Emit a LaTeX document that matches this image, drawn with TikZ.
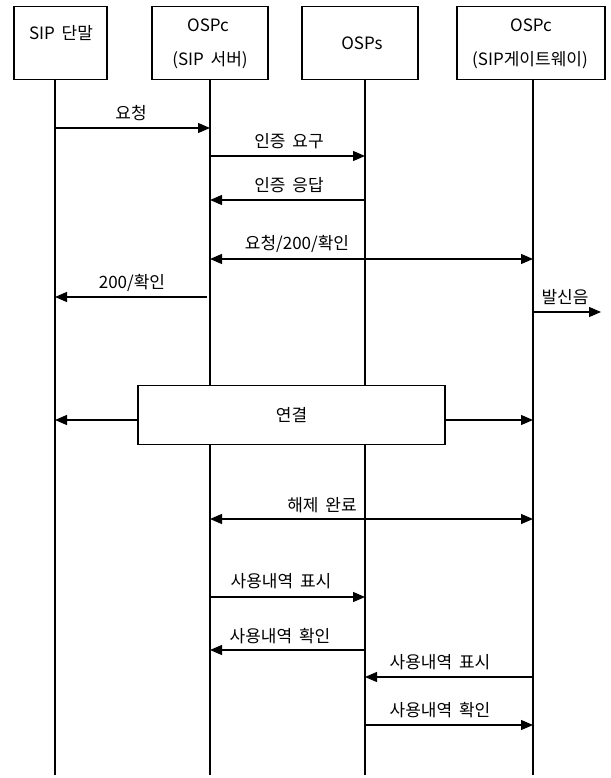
\documentclass[tikz,border=0pt]{standalone}
\usepackage{fontspec}
\setmainfont{Noto Sans CJK KR}
\usetikzlibrary{arrows.meta}
\begin{document}
\begin{tikzpicture}[x=1pt,y=-1pt,
  line width=1.2pt,
  font=\fontsize{17}{20}\selectfont,
  actor/.style={draw,fill=white,minimum height=73pt,inner sep=0pt},
  life/.style={line width=1.2pt},
  msg/.style={-{Triangle[length=12pt,width=10pt]}},
  dmsg/.style={{Triangle[length=12pt,width=10pt]}-{Triangle[length=12pt,width=10pt]}},
  lbl/.style={inner sep=1pt}]
\useasboundingbox (0,0) rectangle (610,778);
% actor boxes
\node[actor,minimum width=93pt] (A) at (60.5,43) {};
\node[actor,minimum width=116pt] (B) at (210,43) {};
\node[actor,minimum width=116pt] (C) at (360,43) {};
\node[actor,minimum width=148pt] (D) at (531,43) {};
\node (At) at (61,33) {SIP\hspace{0.4em}단말};
\node (Bt1) at (208,25) {OSPc};
\node (Bt2) at (210,60) {(SIP\hspace{0.4em}서버)};
\node (Ct) at (362,43) {OSPs};
\node (Dt1) at (531,25) {OSPc};
\node (Dt2) at (530,60) {(SIP게이트웨이)};
% lifeline ends
\coordinate (Ae) at (55,775);
\coordinate (Be) at (210,775);
\coordinate (Ce) at (365,775);
\coordinate (De) at (533,775);
\coordinate (As) at (55,80);
\coordinate (Bs) at (210,80);
\coordinate (Cs) at (365,80);
\coordinate (Ds) at (533,80);
\draw[life] (As) -- (Ae);
\draw[life] (Bs) -- (Be);
\draw[life] (Cs) -- (Ce);
\draw[life] (Ds) -- (De);
% messages
\coordinate (m1a) at (55,128); \coordinate (m1b) at (210,128);
\draw[msg] (m1a) -- (m1b);
\node[lbl] (l1) at (131,113) {요청};
\coordinate (m2a) at (210,156); \coordinate (m2b) at (365,156);
\draw[msg] (m2a) -- (m2b);
\node[lbl] (l2) at (289,141) {인증\hspace{0.4em}요구};
\coordinate (m3a) at (365,200); \coordinate (m3b) at (210,200);
\draw[msg] (m3a) -- (m3b);
\node[lbl] (l3) at (289,185) {인증\hspace{0.4em}응답};
\coordinate (m4a) at (210,259); \coordinate (m4b) at (533,259);
\draw[dmsg] (m4a) -- (m4b);
\node[lbl] (l4) at (297,244) {요청/200/확인};
\coordinate (m5a) at (207,297); \coordinate (m5b) at (55,297);
\draw[msg] (m5a) -- (m5b);
\node[lbl] (l5) at (132,283) {200/확인};
\coordinate (m6a) at (533,312); \coordinate (m6b) at (601,312);
\draw[msg] (m6a) -- (m6b);
\node[lbl] (l6) at (565,297) {발신음};
% connection box
\node[draw,fill=white,minimum width=307pt,minimum height=59pt,inner sep=0pt] (K) at (291.5,415) {연결};
\coordinate (kA) at (55,420); \coordinate (kD) at (533,420);
\draw[msg] (K.west |- kA) -- (kA);
\draw[msg] (K.east |- kD) -- (kD);
% release
\coordinate (m7a) at (210,519); \coordinate (m7b) at (533,519);
\draw[dmsg] (m7a) -- (m7b);
\node[lbl] (l7) at (322,505) {해제\hspace{0.4em}완료};
% usage records
\coordinate (m8a) at (210,597); \coordinate (m8b) at (365,597);
\draw[msg] (m8a) -- (m8b);
\node[lbl] (l8) at (281,581) {사용내역\hspace{0.4em}표시};
\coordinate (m9a) at (365,650); \coordinate (m9b) at (210,650);
\draw[msg] (m9a) -- (m9b);
\node[lbl] (l9) at (280,636) {사용내역\hspace{0.4em}확인};
\coordinate (m10a) at (533,677); \coordinate (m10b) at (365,677);
\draw[msg] (m10a) -- (m10b);
\node[lbl] (l10) at (440,662) {사용내역\hspace{0.4em}표시};
\coordinate (m11a) at (365,725); \coordinate (m11b) at (533,725);
\draw[msg] (m11a) -- (m11b);
\node[lbl] (l11) at (440,710) {사용내역\hspace{0.4em}확인};
\end{tikzpicture}
\end{document}
